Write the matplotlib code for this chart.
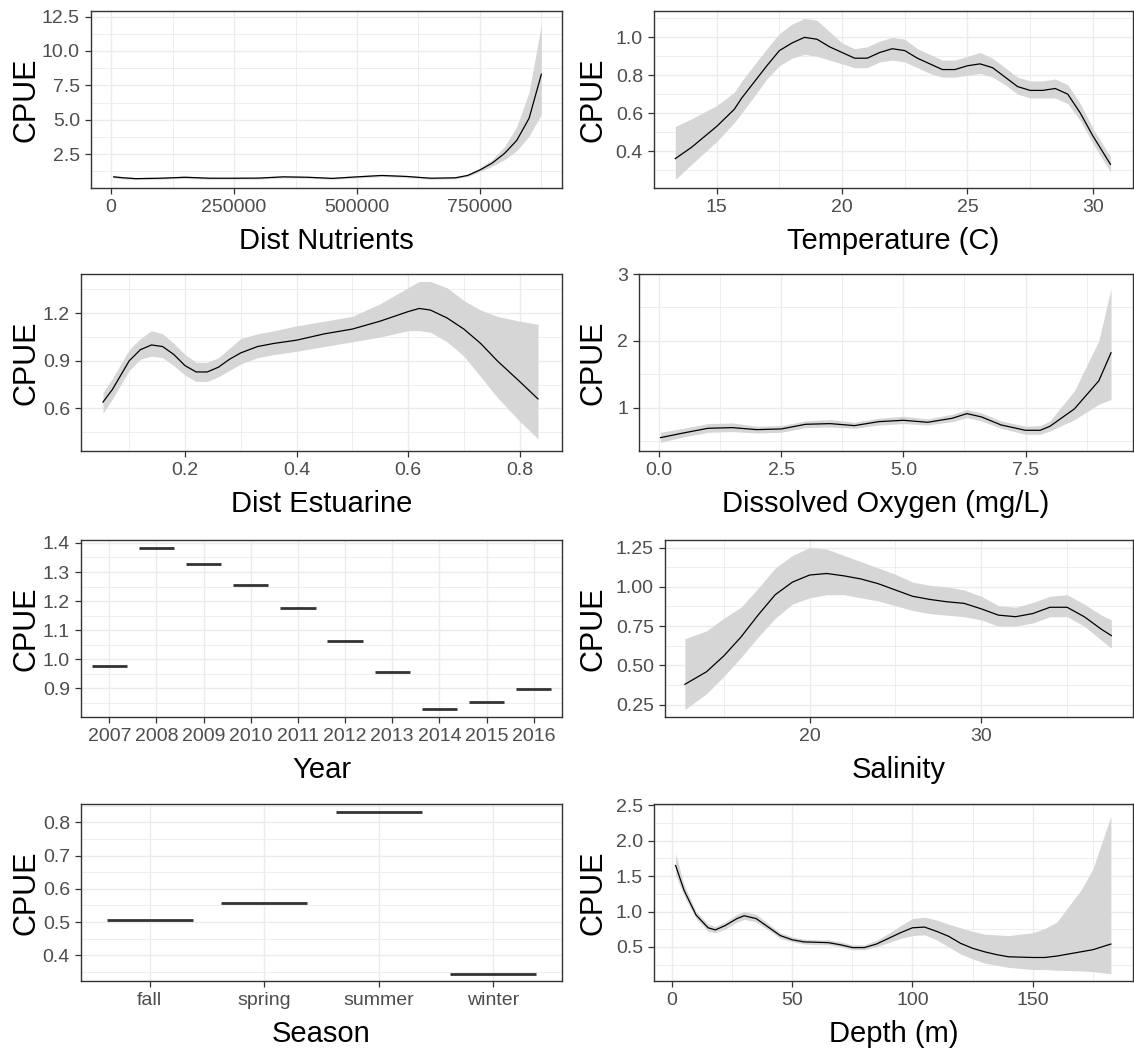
import matplotlib
matplotlib.use("Agg")
import matplotlib.pyplot as plt
from matplotlib.ticker import MultipleLocator, AutoMinorLocator, FormatStrFormatter

plt.rcParams['font.family'] = ['Liberation Sans', 'DejaVu Sans']

# ---- data ----
nutr_x = [5e3, 25e3, 50e3, 100e3, 150e3, 200e3, 250e3, 300e3, 350e3, 400e3, 450e3, 500e3,
          550e3, 600e3, 650e3, 700e3, 725e3, 750e3, 775e3, 800e3, 825e3, 850e3, 875e3]
nutr_fit = [0.85, 0.78, 0.72, 0.75, 0.82, 0.75, 0.75, 0.76, 0.85, 0.82, 0.74, 0.85,
            0.95, 0.88, 0.75, 0.78, 0.95, 1.35, 1.85, 2.55, 3.5, 5.1, 8.3]
nutr_lo = [0.75, 0.70, 0.65, 0.68, 0.74, 0.68, 0.68, 0.69, 0.77, 0.75, 0.67, 0.77,
           0.87, 0.81, 0.68, 0.71, 0.87, 1.22, 1.62, 2.1, 2.75, 3.8, 5.4]
nutr_hi = [0.95, 0.86, 0.80, 0.82, 0.90, 0.82, 0.82, 0.83, 0.93, 0.89, 0.81, 0.93,
           1.03, 0.95, 0.82, 0.85, 1.03, 1.5, 2.1, 3.05, 4.5, 7.0, 11.9]

temp_x = [13.35, 14, 15, 15.7, 16, 17, 17.5, 18, 18.5, 19, 19.5, 20, 20.5, 21, 21.5, 22, 22.5,
          23, 23.5, 24, 24.5, 25, 25.5, 26, 26.5, 27, 27.5, 28, 28.5, 29, 29.5, 30, 30.7]
temp_fit = [0.36, 0.42, 0.53, 0.62, 0.68, 0.85, 0.93, 0.97, 1.0, 0.99, 0.95, 0.92, 0.89, 0.89,
            0.92, 0.94, 0.93, 0.89, 0.86, 0.83, 0.83, 0.85, 0.86, 0.84, 0.79, 0.74, 0.72, 0.72,
            0.73, 0.70, 0.60, 0.48, 0.33]
temp_lo = [0.25, 0.33, 0.45, 0.55, 0.60, 0.78, 0.85, 0.89, 0.91, 0.90, 0.88, 0.86, 0.84, 0.84,
           0.87, 0.88, 0.87, 0.84, 0.81, 0.79, 0.79, 0.80, 0.81, 0.79, 0.75, 0.70, 0.68, 0.68,
           0.68, 0.65, 0.56, 0.44, 0.29]
temp_hi = [0.53, 0.57, 0.64, 0.71, 0.77, 0.94, 1.02, 1.07, 1.10, 1.09, 1.03, 0.97, 0.94, 0.95,
           0.98, 1.00, 0.99, 0.94, 0.91, 0.88, 0.88, 0.90, 0.92, 0.89, 0.84, 0.79, 0.77, 0.77,
           0.78, 0.75, 0.65, 0.52, 0.37]

estu_x = [0.053, 0.07, 0.1, 0.12, 0.14, 0.16, 0.18, 0.2, 0.22, 0.24, 0.26, 0.28, 0.3, 0.33,
          0.36, 0.4, 0.45, 0.5, 0.55, 0.6, 0.62, 0.64, 0.67, 0.7, 0.73, 0.76, 0.8, 0.833]
estu_fit = [0.64, 0.72, 0.90, 0.97, 1.0, 0.99, 0.94, 0.87, 0.83, 0.83, 0.86, 0.91, 0.95, 0.99,
            1.01, 1.03, 1.07, 1.10, 1.15, 1.21, 1.23, 1.22, 1.17, 1.10, 1.01, 0.90, 0.77, 0.66]
estu_lo = [0.57, 0.66, 0.84, 0.91, 0.93, 0.92, 0.87, 0.81, 0.77, 0.77, 0.80, 0.84, 0.88, 0.92,
           0.94, 0.96, 0.99, 1.02, 1.05, 1.09, 1.09, 1.08, 1.02, 0.93, 0.80, 0.67, 0.52, 0.41]
estu_hi = [0.70, 0.79, 0.97, 1.04, 1.09, 1.07, 1.01, 0.94, 0.89, 0.89, 0.92, 0.98, 1.04, 1.07,
           1.09, 1.12, 1.15, 1.18, 1.26, 1.36, 1.40, 1.40, 1.36, 1.28, 1.22, 1.18, 1.15, 1.13]

oxy_x = [0.03, 0.5, 1.0, 1.5, 2.0, 2.5, 3.0, 3.5, 4.0, 4.5, 5.0, 5.5, 6.0, 6.3, 6.6, 7.0, 7.5,
         7.8, 8.0, 8.5, 9.0, 9.25]
oxy_fit = [0.55, 0.62, 0.69, 0.70, 0.67, 0.68, 0.75, 0.76, 0.73, 0.79, 0.81, 0.78, 0.84, 0.91,
           0.86, 0.74, 0.66, 0.66, 0.72, 0.98, 1.40, 1.82]
oxy_lo = [0.48, 0.56, 0.63, 0.64, 0.62, 0.63, 0.70, 0.71, 0.69, 0.74, 0.76, 0.74, 0.79, 0.85,
          0.80, 0.69, 0.60, 0.60, 0.65, 0.82, 1.05, 1.12]
oxy_hi = [0.63, 0.69, 0.76, 0.77, 0.72, 0.73, 0.80, 0.82, 0.78, 0.84, 0.87, 0.83, 0.90, 0.97,
          0.92, 0.80, 0.72, 0.73, 0.80, 1.25, 2.0, 2.78]

years = ['2007', '2008', '2009', '2010', '2011', '2012', '2013', '2014', '2015', '2016']
year_cpue = [0.977, 1.382, 1.328, 1.257, 1.178, 1.064, 0.956, 0.830, 0.853, 0.898]

sal_x = [12.74, 14, 15, 16, 17, 18, 19, 20, 21, 22, 23, 24, 25, 26, 27, 28, 29, 30, 31, 32,
         33, 34, 35, 36, 37, 37.58]
sal_fit = [0.38, 0.46, 0.56, 0.68, 0.82, 0.95, 1.03, 1.075, 1.085, 1.07, 1.05, 1.02, 0.98,
           0.94, 0.92, 0.905, 0.895, 0.86, 0.82, 0.81, 0.83, 0.87, 0.87, 0.81, 0.73, 0.69]
sal_lo = [0.22, 0.32, 0.43, 0.55, 0.68, 0.80, 0.89, 0.93, 0.95, 0.95, 0.93, 0.91, 0.88, 0.85,
          0.83, 0.82, 0.81, 0.79, 0.75, 0.75, 0.77, 0.81, 0.81, 0.75, 0.66, 0.61]
sal_hi = [0.67, 0.72, 0.80, 0.87, 0.99, 1.12, 1.20, 1.25, 1.24, 1.20, 1.16, 1.12, 1.08, 1.03,
          1.01, 1.00, 0.98, 0.94, 0.88, 0.87, 0.90, 0.94, 0.95, 0.89, 0.82, 0.79]

seasons = ['fall', 'spring', 'summer', 'winter']
season_cpue = [0.507, 0.556, 0.830, 0.345]

depth_x = [1.5, 5, 10, 15, 18, 22, 27, 30, 35, 40, 45, 50, 55, 60, 65, 70, 75, 80, 85, 90, 95,
           100, 105, 110, 115, 120, 125, 130, 135, 140, 150, 155, 160, 170, 175, 182.5]
depth_fit = [1.65, 1.30, 0.95, 0.77, 0.74, 0.80, 0.90, 0.94, 0.90, 0.78, 0.66, 0.60, 0.57,
             0.565, 0.56, 0.53, 0.49, 0.49, 0.54, 0.62, 0.70, 0.77, 0.78, 0.72, 0.65, 0.55,
             0.48, 0.43, 0.39, 0.36, 0.35, 0.35, 0.37, 0.43, 0.46, 0.54]
depth_lo = [1.52, 1.22, 0.90, 0.72, 0.70, 0.75, 0.85, 0.89, 0.85, 0.74, 0.62, 0.57, 0.54,
            0.53, 0.53, 0.50, 0.46, 0.46, 0.50, 0.56, 0.62, 0.66, 0.67, 0.60, 0.50, 0.40,
            0.33, 0.27, 0.24, 0.21, 0.18, 0.18, 0.17, 0.16, 0.15, 0.12]
depth_hi = [1.82, 1.38, 1.00, 0.82, 0.79, 0.85, 0.96, 1.00, 0.96, 0.83, 0.70, 0.64, 0.61,
            0.60, 0.60, 0.57, 0.53, 0.53, 0.59, 0.69, 0.80, 0.90, 0.92, 0.88, 0.82, 0.77,
            0.72, 0.68, 0.67, 0.66, 0.70, 0.76, 0.85, 1.3, 1.6, 2.35]

W, H = 1134, 1053
fig = plt.figure(figsize=(W / 100, H / 100), dpi=100)

GRID = '#EBEBEB'
RIB = '#D6D6D6'


def make_ax(left, top, right, height):
    ax = fig.add_axes([left / W, 1 - (top + height) / H, (right - left) / W, height / H])
    ax.set_axisbelow(True)
    for s in ax.spines.values():
        s.set_color('#333333')
        s.set_linewidth(1.0)
    ax.tick_params(axis='both', which='major', direction='out', length=4.5, width=0.9,
                   color='#333333', labelsize=14, labelcolor='#4D4D4D', pad=3.5)
    ax.tick_params(axis='both', which='minor', length=0)
    return ax


def finish(ax, xlabel, cell_left, top, height):
    ax.set_xlabel(xlabel, fontsize=21, color='black', va='center')
    ax.set_ylabel('CPUE', fontsize=22, color='black', va='center')
    ax.xaxis.set_label_coords(0.5, 1 - (top + height + 53) / H)
    ax.xaxis.label.set_transform(matplotlib.transforms.blended_transform_factory(
        ax.transAxes, fig.transFigure))
    ax.yaxis.set_label_coords((cell_left + 26) / W, 0.5)
    ax.yaxis.label.set_transform(matplotlib.transforms.blended_transform_factory(
        fig.transFigure, ax.transAxes))


def smooth_panel(ax, x, fit, lo, hi, xlim, ylim, xmaj, ymaj, xfmt, yfmt):
    ax.fill_between(x, lo, hi, color=RIB, lw=0, zorder=2)
    ax.plot(x, fit, color='black', lw=0.9, zorder=3)
    ax.set_xlim(*xlim)
    ax.set_ylim(*ylim)
    ax.xaxis.set_major_locator(MultipleLocator(xmaj))
    ax.yaxis.set_major_locator(MultipleLocator(ymaj))
    ax.xaxis.set_minor_locator(AutoMinorLocator(2))
    ax.yaxis.set_minor_locator(AutoMinorLocator(2))
    ax.xaxis.set_major_formatter(FormatStrFormatter(xfmt))
    ax.yaxis.set_major_formatter(FormatStrFormatter(yfmt))
    ax.grid(which='major', color=GRID, lw=1.0)
    ax.grid(which='minor', color=GRID, lw=0.6)


def cat_panel(ax, labels, vals, ylim, ymaj, yfmt):
    pos = list(range(1, len(labels) + 1))
    ax.hlines(vals, [p - 0.375 for p in pos], [p + 0.375 for p in pos],
              color='#333333', lw=2.0, zorder=3)
    ax.set_xlim(0.4, len(labels) + 0.6)
    ax.set_ylim(*ylim)
    ax.set_xticks(pos)
    ax.set_xticklabels(labels)
    ax.yaxis.set_major_locator(MultipleLocator(ymaj))
    ax.yaxis.set_minor_locator(AutoMinorLocator(2))
    ax.yaxis.set_major_formatter(FormatStrFormatter(yfmt))
    ax.grid(axis='x', which='major', color=GRID, lw=1.0)
    ax.grid(axis='y', which='major', color=GRID, lw=1.0)
    ax.grid(axis='y', which='minor', color=GRID, lw=0.6)


tops = [11, 274, 540, 804]
ph = 177

# row 1
ax = make_ax(91, tops[0], 562, ph)
smooth_panel(ax, nutr_x, nutr_fit, nutr_lo, nutr_hi, (-41000, 917000), (0.04, 12.9),
             250000, 2.5, '%d', '%.1f')
finish(ax, 'Dist Nutrients', 0, tops[0], ph)

ax = make_ax(654, tops[0], 1133, ph)
smooth_panel(ax, temp_x, temp_fit, temp_lo, temp_hi, (12.5, 31.6), (0.205, 1.139),
             5, 0.2, '%d', '%.1f')
finish(ax, 'Temperature (C)', 567, tops[0], ph)

# row 2
ax = make_ax(81, tops[1], 562, ph)
smooth_panel(ax, estu_x, estu_fit, estu_lo, estu_hi, (0.0136, 0.876), (0.332, 1.447),
             0.2, 0.3, '%.1f', '%.1f')
finish(ax, 'Dist Estuarine', 0, tops[1], ph)

ax = make_ax(639, tops[1], 1133, ph)
smooth_panel(ax, oxy_x, oxy_fit, oxy_lo, oxy_hi, (-0.41, 9.7), (0.35, 3.0),
             2.5, 1, '%.1f', '%d')
finish(ax, 'Dissolved Oxygen (mg/L)', 567, tops[1], ph)

# row 3
ax = make_ax(81, tops[2], 562, ph)
cat_panel(ax, years, year_cpue, (0.802, 1.41), 0.1, '%.1f')
finish(ax, 'Year', 0, tops[2], ph)

ax = make_ax(665, tops[2], 1133, ph)
smooth_panel(ax, sal_x, sal_fit, sal_lo, sal_hi, (11.58, 38.84), (0.172, 1.298),
             10, 0.25, '%d', '%.2f')
finish(ax, 'Salinity', 567, tops[2], ph)

# row 4
ax = make_ax(81, tops[3], 562, ph)
cat_panel(ax, seasons, season_cpue, (0.323, 0.855), 0.1, '%.1f')
finish(ax, 'Season', 0, tops[3], ph)

ax = make_ax(654, tops[3], 1133, ph)
smooth_panel(ax, depth_x, depth_fit, depth_lo, depth_hi, (-7.5, 191.7), (0.0176, 2.52),
             50, 0.5, '%d', '%.1f')
finish(ax, 'Depth (m)', 567, tops[3], ph)

fig.savefig('out.png', dpi=100)
